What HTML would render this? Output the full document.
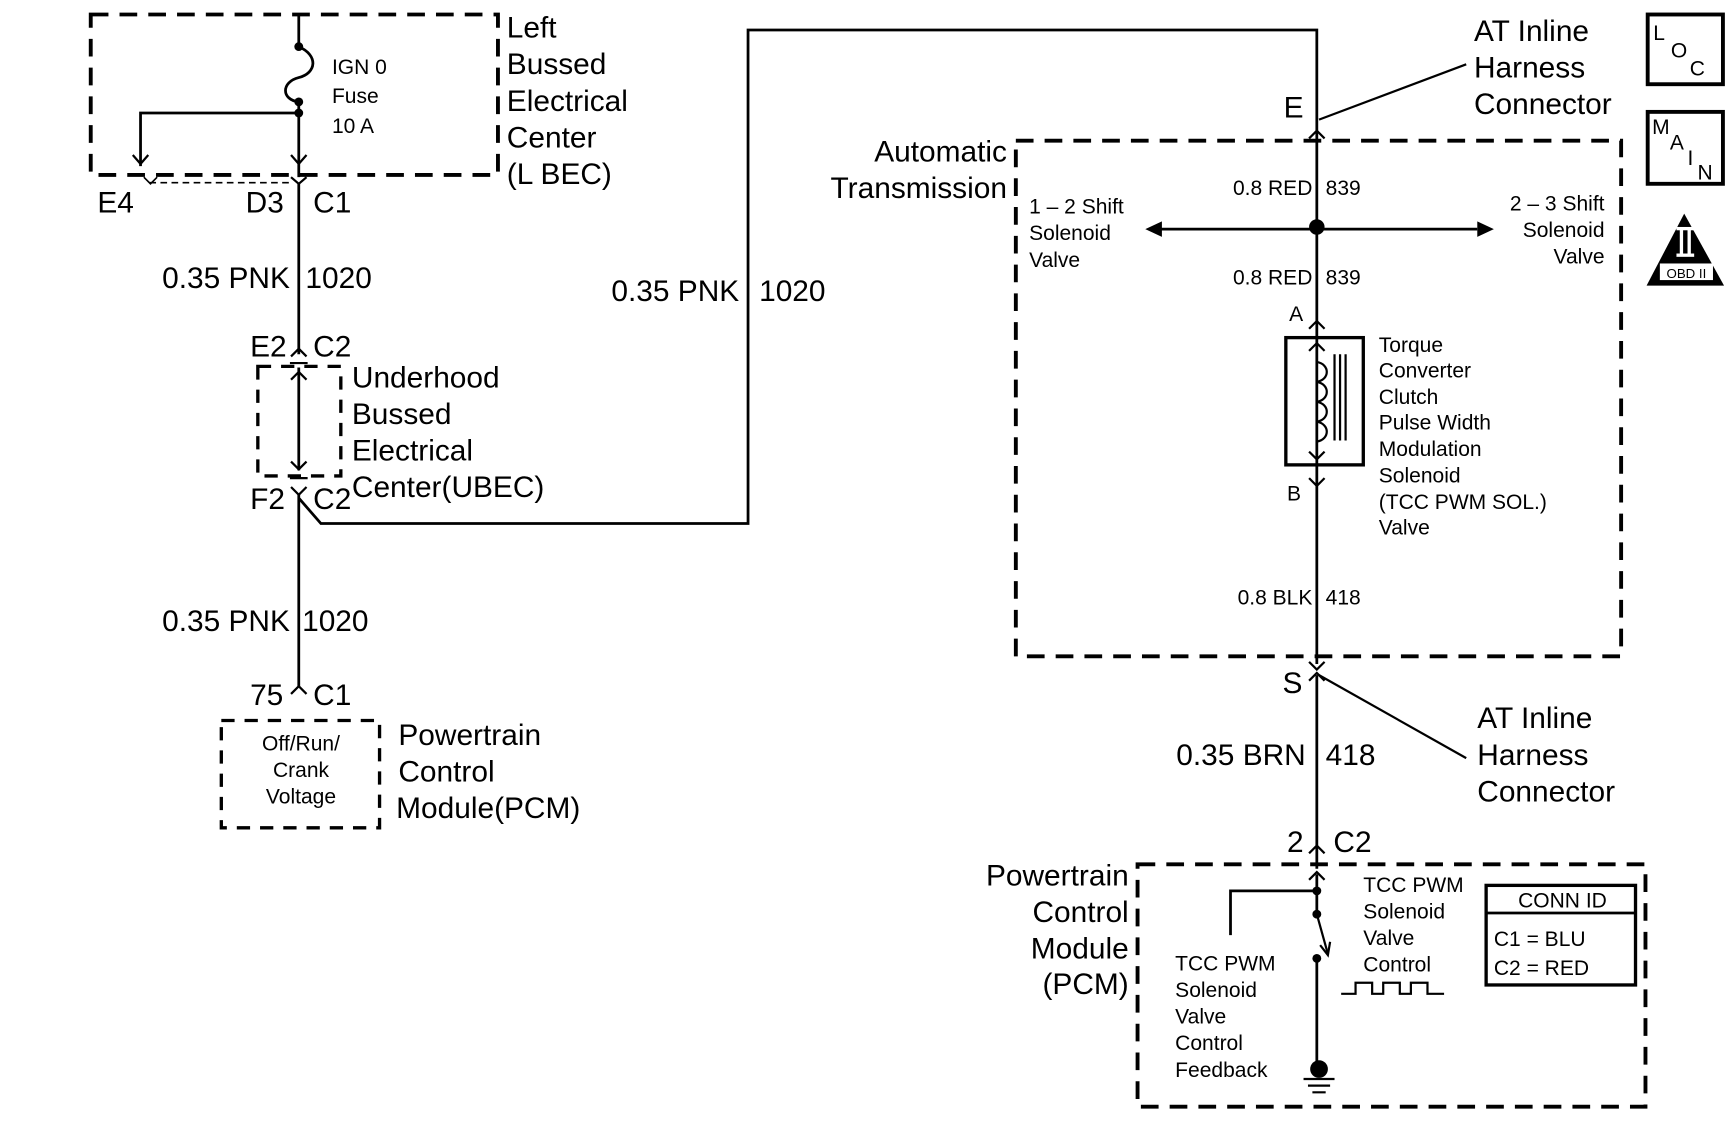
<!DOCTYPE html>
<html><head><meta charset="utf-8"><style>
html,body{margin:0;padding:0;background:#fff;}
svg{display:block;}
text{font-family:"Liberation Sans",Arial,sans-serif;fill:#000;}
.b{font-size:27px;}
.m{font-size:19px;}
</style></head><body>
<svg width="1734" height="1140" viewBox="0 0 1567 1030" xmlns="http://www.w3.org/2000/svg">
<g fill="none" stroke="#000">
<rect x="82" y="13" width="368" height="145" stroke-width="3.5" stroke-dasharray="16,10"/>
<rect x="233" y="331" width="75" height="99" stroke-width="3" stroke-dasharray="12,9"/>
<rect x="200" y="651" width="143" height="97" stroke-width="3" stroke-dasharray="12,9"/>
<rect x="918" y="127" width="547" height="466" stroke-width="3.5" stroke-dasharray="16,10"/>
<rect x="1028" y="781" width="459" height="219" stroke-width="3.5" stroke-dasharray="16,10"/>
<path d="M270 13 V42 C288 50 286 66 270 70 C254 74 254 90 270 92 V160" stroke-width="2.5"/>
<path d="M270 102 H127 V150" stroke-width="2.5"/>
<path d="M120 140 L127 148 L134 140 M263 140 L270 148 L277 140" stroke-width="2"/>
<path d="M135 165 H262" stroke-width="1.5" stroke-dasharray="6,4"/>
<path d="M130 160 L136 166 L142 160" stroke-width="1.5"/>
<path d="M263 160 L270 166 L277 160" stroke-width="2"/>
<path d="M270 166 V320" stroke-width="2.5"/>
<path d="M263 322 L270 315 L277 322" stroke-width="2"/>
<path d="M262 328 H278" stroke-width="2"/>
<path d="M270 332 V425" stroke-width="2.5"/>
<path d="M263 343 L270 336 L277 343 M263 417 L270 424 L277 417" stroke-width="2"/>
<path d="M262 432 H278" stroke-width="2"/>
<path d="M263 440 L270 447 L277 440" stroke-width="2"/>
<path d="M270 447 V620 M270 450 L290 473 H676 V27 H1190 V600" stroke-width="2.5"/>
<path d="M263 627 L270 620 L277 627" stroke-width="2"/>
<path d="M1183 125 L1190 118 L1197 125" stroke-width="2"/>
<path d="M1192 108 L1325 58" stroke-width="2"/>
<path d="M1183 598 L1190 605 L1197 598" stroke-width="2"/>
<path d="M1183 615 L1190 608 L1197 615" stroke-width="2"/>
<path d="M1192 610 L1325 685" stroke-width="2"/>
<path d="M1190 610 V785" stroke-width="2.5"/>
<path d="M1183 771 L1190 764 L1197 771" stroke-width="2"/>
<path d="M1183 795 L1190 788 L1197 795" stroke-width="2"/>
<path d="M1048 207 H1335" stroke-width="2.5"/>
<rect x="1162" y="305" width="70" height="115" stroke-width="3"/>
<path d="M1183 297 L1190 290 L1197 297 M1183 432 L1190 439 L1197 432" stroke-width="2"/>
<path d="M1190 310 V327 C1202 329 1202 343 1190 345 C1202 347 1202 361 1190 363 C1202 365 1202 379 1190 381 C1202 383 1202 397 1190 399 V415" stroke-width="2"/>
<path d="M1183 317 L1190 310 L1197 317 M1183 408 L1190 415 L1197 408" stroke-width="2"/>
<path d="M1206 320 V398 M1211 320 V398 M1216 320 V398" stroke-width="2"/>
<path d="M1190 790 V826 M1190 805 H1112 V845" stroke-width="2.5"/>
<path d="M1190 826 L1200 862" stroke-width="2"/>
<path d="M1193 854 L1200 863 L1202 851" stroke-width="2"/>
<path d="M1190 866 V966" stroke-width="2.5"/>
<path d="M1178 975 H1206 M1182 981 H1202 M1186 987 H1198" stroke-width="2"/>
<path d="M1212 898 H1225 V888 H1240 V898 H1250 V888 H1265 V898 H1275 V888 H1290 V898 H1305" stroke-width="2"/>
<rect x="1343" y="800" width="135" height="90" stroke-width="3"/>
<path d="M1343 825 H1478" stroke-width="2.5"/>
<rect x="1489" y="13" width="68" height="63" stroke-width="3.5"/>
<rect x="1489" y="101" width="68" height="65" stroke-width="3.5"/>
</g>
<g fill="#000">
<circle cx="270" cy="42" r="4"/><circle cx="270" cy="92" r="4"/><circle cx="270" cy="102" r="4"/>
<circle cx="1190" cy="205" r="7"/>
<circle cx="1190" cy="805" r="4"/><circle cx="1190" cy="826" r="4"/><circle cx="1190" cy="866" r="4"/>
<circle cx="1192" cy="966" r="8"/>
<path d="M1035 207 L1050 200 L1050 214 Z"/><path d="M1350 207 L1335 200 L1335 214 Z"/>
<path d="M1522 193 L1488 258 L1558 258 Z"/>
</g>
<rect x="1500" y="238" width="48" height="15" fill="#fff"/>
<rect x="1515" y="205" width="16" height="3" fill="#fff"/><rect x="1515" y="229" width="16" height="3" fill="#fff"/>
<rect x="1518" y="207" width="3" height="23" fill="#fff"/><rect x="1525" y="207" width="3" height="23" fill="#fff"/>
<text x="1524" y="251" font-size="12" text-anchor="middle">OBD II</text>
<text x="1494" y="36" font-size="19">L</text><text x="1510" y="52" font-size="19">O</text><text x="1527" y="68" font-size="19">C</text>
<text x="1493" y="121" font-size="19">M</text><text x="1509" y="135" font-size="19">A</text><text x="1525" y="149" font-size="19">I</text><text x="1534" y="162" font-size="19">N</text>
<g class="b">
<text x="458" y="34">Left</text><text x="458" y="67">Bussed</text><text x="458" y="100">Electrical</text><text x="458" y="133">Center</text><text x="458" y="166">(L BEC)</text>
<text x="88" y="192">E4</text><text x="222" y="192">D3</text><text x="283" y="192">C1</text>
<text x="262" y="260" text-anchor="end">0.35 PNK</text><text x="276" y="260">1020</text>
<text x="226" y="322">E2</text><text x="283" y="322">C2</text>
<text x="318" y="350">Underhood</text><text x="318" y="383">Bussed</text><text x="318" y="416">Electrical</text><text x="318" y="449">Center(UBEC)</text>
<text x="226" y="460">F2</text><text x="283" y="460">C2</text>
<text x="262" y="570" text-anchor="end">0.35 PNK</text><text x="273" y="570">1020</text>
<text x="226" y="637">75</text><text x="283" y="637">C1</text>
<text x="360" y="673">Powertrain</text><text x="360" y="706">Control</text><text x="358" y="739">Module(PCM)</text>
<text x="668" y="272" text-anchor="end">0.35 PNK</text><text x="686" y="272">1020</text>
<text x="1160" y="106">E</text>
<text x="1332" y="37">AT Inline</text><text x="1332" y="70">Harness</text><text x="1332" y="103">Connector</text>
<text x="910" y="146" text-anchor="end">Automatic</text><text x="910" y="179" text-anchor="end">Transmission</text>
<text x="1159" y="626">S</text>
<text x="1335" y="658">AT Inline</text><text x="1335" y="691">Harness</text><text x="1335" y="724">Connector</text>
<text x="1180" y="691" text-anchor="end">0.35 BRN</text><text x="1198" y="691">418</text>
<text x="1163" y="770">2</text><text x="1205" y="770">C2</text>
<text x="1020" y="800" text-anchor="end">Powertrain</text><text x="1020" y="833" text-anchor="end">Control</text><text x="1020" y="866" text-anchor="end">Module</text><text x="1020" y="898" text-anchor="end">(PCM)</text>
</g>
<g class="m">
<text x="300" y="67">IGN 0</text><text x="300" y="93">Fuse</text><text x="300" y="120">10 A</text>
<text x="272" y="678" text-anchor="middle">Off/Run/</text><text x="272" y="702" text-anchor="middle">Crank</text><text x="272" y="726" text-anchor="middle">Voltage</text>
<text x="1186" y="176" text-anchor="end">0.8 RED</text><text x="1198" y="176">839</text>
<text x="1186" y="257" text-anchor="end">0.8 RED</text><text x="1198" y="257">839</text>
<text x="930" y="193">1 – 2 Shift</text><text x="930" y="217">Solenoid</text><text x="930" y="241">Valve</text>
<text x="1450" y="190" text-anchor="end">2 – 3 Shift</text><text x="1450" y="214" text-anchor="end">Solenoid</text><text x="1450" y="238" text-anchor="end">Valve</text>
<text x="1165" y="290">A</text><text x="1163" y="452">B</text>
<text x="1246" y="318">Torque</text><text x="1246" y="341">Converter</text><text x="1246" y="365">Clutch</text><text x="1246" y="388">Pulse Width</text><text x="1246" y="412">Modulation</text><text x="1246" y="436">Solenoid</text><text x="1246" y="460">(TCC PWM SOL.)</text><text x="1246" y="483">Valve</text>
<text x="1186" y="546" text-anchor="end">0.8 BLK</text><text x="1198" y="546">418</text>
<text x="1062" y="877">TCC PWM</text><text x="1062" y="901">Solenoid</text><text x="1062" y="925">Valve</text><text x="1062" y="949">Control</text><text x="1062" y="973">Feedback</text>
<text x="1232" y="806">TCC PWM</text><text x="1232" y="830">Solenoid</text><text x="1232" y="854">Valve</text><text x="1232" y="878">Control</text>
<text x="1412" y="820" text-anchor="middle">CONN ID</text>
<text x="1350" y="855">C1 = BLU</text><text x="1350" y="881">C2 = RED</text>
</g>
</svg>
</body></html>
